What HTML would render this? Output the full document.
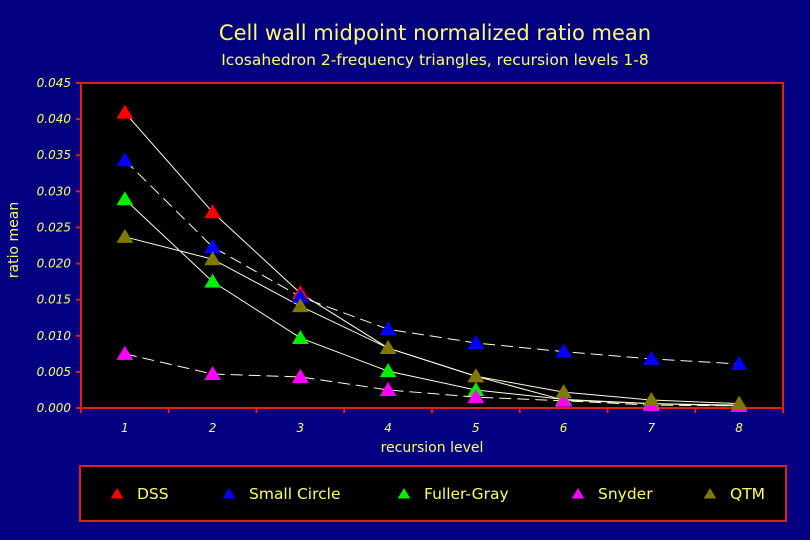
<!DOCTYPE html>
<html><head><meta charset="utf-8"><style>
body{margin:0;background:#020080;width:810px;height:540px;overflow:hidden;font-family:"DejaVu Sans","Liberation Sans",sans-serif;}
</style></head><body>
<svg id="chart" width="810" height="540" xmlns="http://www.w3.org/2000/svg" style="display:block">
<rect width="810" height="540" fill="#020080"/>
<text x="435" y="40" fill="#ffff66" font-size="21" text-anchor="middle">Cell wall midpoint normalized ratio mean</text>
<text x="435" y="65" fill="#ffff66" font-size="15.5" text-anchor="middle">Icosahedron 2-frequency triangles, recursion levels 1-8</text>
<rect x="81" y="83" width="702" height="325" fill="#000" stroke="#e0201c" stroke-width="2"/>
<text x="18" y="240" fill="#ffff66" font-size="14" text-anchor="middle" transform="rotate(-90 18 240)">ratio mean</text>
<text x="432" y="452" fill="#ffff66" font-size="14" text-anchor="middle">recursion level</text>
<g id="axes"></g><g id="series"></g>
<rect x="80" y="466" width="706" height="55" fill="#000" stroke="#e0201c" stroke-width="2"/>
<g id="legend"></g>
</svg>
<script>
const categories=[1,2,3,4,5,6,7,8];
const yTicks=[0,0.005,0.010,0.015,0.020,0.025,0.030,0.035,0.040,0.045];
const seriesNames=["DSS","Small Circle","Fuller-Gray","Snyder","QTM"];
const seriesColors=["#ff0000","#0000ff","#00ee00","#ff00ff","#807800"];
const dss=[0.0409,0.0271,0.0159,0.0083,0.0044,0.0011,0.0006,0.0004];
const smallCircle=[0.0343,0.0223,0.0154,0.0109,0.0090,0.0078,0.0068,0.0061];
const fullerGray=[0.0289,0.0175,0.0097,0.0051,0.0025,0.0012,0.0006,0.0003];
const snyder=[0.0075,0.0047,0.0043,0.0025,0.0015,0.0010,0.0004,0.0003];
const qtm=[0.0237,0.0206,0.0141,0.0083,0.0044,0.0022,0.0011,0.0006];
const allSeries=[dss,smallCircle,fullerGray,snyder,qtm];
const dashes=["none","12,6","none","12,6","none"];
const NS="http://www.w3.org/2000/svg";
const L=81,R=783,T=83,B=408,yMax=0.045;
const step=(R-L)/categories.length;
function xs(i){return L+step*(i+0.5);}
function ys(v){return B-(v/yMax)*(B-T);}
function mk(tag,attrs,parent,txt){const e=document.createElementNS(NS,tag);for(const k in attrs)e.setAttribute(k,attrs[k]);if(txt!==undefined)e.textContent=txt;parent.appendChild(e);return e;}
const axes=document.getElementById('axes');
yTicks.forEach(t=>{
 const y=ys(t);
 const tk=mk('line',{x1:L-5,x2:L,y1:y,y2:y,stroke:'#e0201c','stroke-width':2},axes);
 
 
 const lb=mk('text',{x:L-10,y:y+4,fill:'#ffff66','font-size':12,'font-style':'italic','text-anchor':'end'},axes,t.toFixed(3));
 
 
});
for(let i=0;i<=categories.length;i++){
 const x=L+step*i;
 const tk=mk('line',{x1:x,x2:x,y1:B,y2:B+5,stroke:'#e0201c','stroke-width':2},axes);
 
 
}
categories.forEach((c,i)=>{
 const lb=mk('text',{x:xs(i),y:B+24,fill:'#ffff66','font-size':12,'font-style':'italic','text-anchor':'middle'},axes,String(c));
 
 
});
function tri(cx,cy,s){return `${cx},${cy-s} ${cx-s*1.05},${cy+s*0.75} ${cx+s*1.05},${cy+s*0.75}`;}
const sg=document.getElementById('series');
allSeries.forEach((vals,si)=>{
 const pts=vals.map((v,i)=>xs(i)+','+ys(v)).join(' ');
 const pl=mk('polyline',{points:pts,fill:'none',stroke:'#ffffe0','stroke-width':1,'stroke-dasharray':dashes[si]},sg);
 
 
});
allSeries.forEach((vals,si)=>{
 vals.forEach((v,i)=>{
  const p=mk('polygon',{points:tri(xs(i),ys(v),8),fill:seriesColors[si]},sg);
  
  
 });
});
const lg=document.getElementById('legend');
const legX=[117,229,404,578,710];
seriesNames.forEach((n,si)=>{
 const p=mk('polygon',{points:tri(legX[si],494,6),fill:seriesColors[si]},lg);
 
 
 const t=mk('text',{x:legX[si]+20,y:499,fill:'#ffff66','font-size':15.5},lg,n);
 
 
});
</script>
</body></html>
